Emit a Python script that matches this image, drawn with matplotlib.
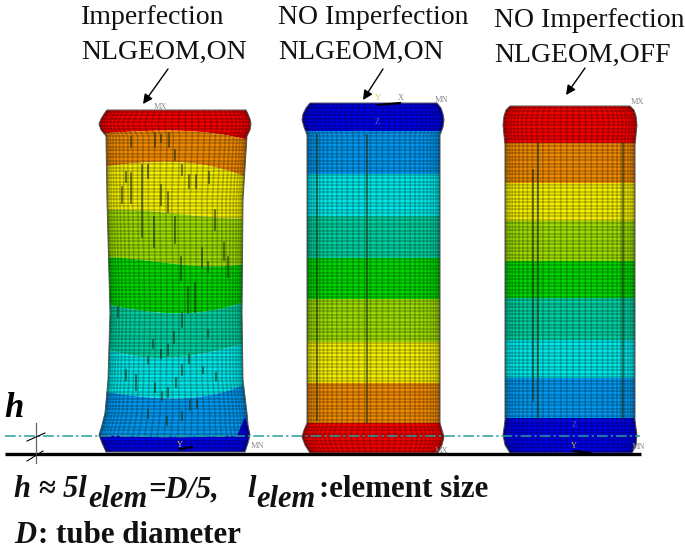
# FE tube sketch: three tubes with contour bands, labels and the h dimension

import numpy as np
import matplotlib.pyplot as plt
from matplotlib.patches import Polygon

plt.rcParams["font.family"] = ["Liberation Serif", "DejaVu Serif"]

# contour colours, top band first (tube 1 and 3)
band_colors = ["#f40000", "#f08a00", "#f4f000", "#9cdc00", "#00d800",
               "#00d0a0", "#00e8e8", "#0098f0", "#0000e8"]

# outlines
t1_y = [110, 114, 119, 124, 130, 136, 200, 313, 380, 413, 425, 435, 443, 452]
t1_left = [107, 104, 101, 99, 101, 106, 107, 110, 108, 105, 102, 99, 102, 106]
t1_right = [246, 248, 250, 251, 250, 247, 243, 242, 243, 247, 248, 250, 248, 245]

t2_y = [103, 108, 114, 120, 127, 135, 423, 430, 437, 445, 453]
t2_left = [310, 306, 303, 302, 304, 307, 307, 304, 302, 305, 310]
t2_right = [437, 441, 443, 444, 443, 440, 440, 442, 444, 442, 438]

t3_y = [106, 110, 116, 125, 135, 145, 420, 428, 435, 445, 453]
t3_left = [510, 506, 504, 503, 504, 505, 505, 504, 503, 505, 510]
t3_right = [630, 634, 636, 637, 636, 635, 635, 636, 637, 636, 632]

# band boundaries, tube 1 is curved (left, 25%, middle, 75%, right)
t1_bands = [[133, 131, 130, 133, 141],
            [167, 163, 161, 167, 180],
            [210, 210, 213, 217, 218],
            [257, 258, 265, 265, 262],
            [302, 308, 315, 308, 298],
            [345, 355, 358, 350, 340],
            [390, 395, 399, 393, 380],
            [434, 436, 437, 436, 435]]
t2_bands = [131, 174, 216, 258, 299, 342, 383, 423]
t3_bands = [143, 183, 221, 261, 298, 340, 378, 418]
t1_corner = [[237, 436], [245, 417], [251, 436]]

# dark short strokes on tube 1 (x, y start, y end)
t1_strokes = [(131, 137, 147), (155, 133, 147), (161, 135, 142), (169, 133, 147),
              (175, 150, 160), (142, 165, 237), (148, 165, 178), (126, 172, 182),
              (131, 173, 203), (122, 187, 203), (161, 185, 205), (168, 192, 212),
              (182, 165, 175), (189, 175, 188), (196, 175, 188), (209, 172, 183),
              (154, 217, 247), (175, 217, 243), (215, 210, 230), (202, 248, 267),
              (181, 257, 280), (208, 262, 272), (224, 243, 260), (228, 257, 277),
              (188, 287, 313), (195, 283, 312), (182, 313, 327), (174, 332, 343),
              (153, 340, 348), (118, 307, 317), (208, 330, 337), (161, 350, 358),
              (168, 345, 355), (148, 357, 363), (126, 370, 380), (136, 375, 390),
              (155, 383, 392), (176, 378, 387), (162, 392, 400), (168, 388, 397),
              (182, 365, 375), (189, 355, 363), (203, 367, 373), (216, 373, 380),
              (190, 400, 410), (197, 400, 408), (182, 412, 420), (167, 417, 425),
              (148, 410, 418)]
t2_strokes = [(317, 135, 420), (367, 135, 423)]
t3_strokes = [(538, 143, 418), (533, 170, 400), (623, 143, 418)]

# titles: text, x, baseline y
titles = [("Imperfection", 81, 24), ("NLGEOM,ON", 81, 59),
          ("NO Imperfection", 278, 24), ("NLGEOM,ON", 278, 59),
          ("NO Imperfection", 494, 27), ("NLGEOM,OFF", 494, 62)]
arrows = [((168, 69), (143, 104)), ((383, 69), (363, 100)), ((585, 68), (566, 95))]

# little grey result labels: text, x, y, colour
small_labels = [("MX", 160, 107, "#8a8a8a"), ("MN", 257, 446, "#8a8a8a"),
                ("Y", 378, 98, "#d8d040"), ("X", 401, 98, "#8a8a8a"),
                ("MN", 441, 100, "#8a8a8a"), ("Z", 377, 122, "#3a6ad8"),
                ("MX", 441, 451, "#8a8a8a"), ("MX", 637, 102, "#8a8a8a"),
                ("MN", 638, 447, "#8a8a8a"), ("Y", 574, 446, "#c8c840"),
                ("Z", 574, 425, "#3a6ad8"), ("Y", 180, 445, "#d8d040")]

fig = plt.figure(figsize=(6.85, 5.5), dpi=100)
ax = fig.add_axes([0, 0, 1, 1])
ax.set_xlim(0, 685)
ax.set_ylim(550, 0)
ax.axis("off")


# One tube: outline, bands clipped to it, then the mesh on top
def draw_tube(y, left, right, bands, colors, strokes, n_cols=36, row_step=3.5):
    y = np.array(y, dtype=float)
    left = np.array(left, dtype=float)
    right = np.array(right, dtype=float)
    pts = np.vstack([np.column_stack([left, y]),
                     np.column_stack([right, y])[::-1]])
    outline = Polygon(pts, closed=True, facecolor="none", edgecolor="#555555",
                      lw=0.7, zorder=6)
    ax.add_patch(outline)

    xs = np.linspace(left.min() - 2, right.max() + 2, 80)
    tops = [np.full_like(xs, y.min() - 2)]
    for b in bands:
        if np.isscalar(b):
            tops.append(np.full_like(xs, b))
        else:
            fr = [0, 0.25, 0.5, 0.75, 1]
            fit = np.polyfit(fr, b, 3)
            tops.append(np.polyval(fit, (xs - xs[0]) / (xs[-1] - xs[0])))
    tops.append(np.full_like(xs, y.max() + 2))
    for i, c in enumerate(colors):
        f = ax.fill_between(xs, tops[i], tops[i + 1], color=c, lw=0, zorder=2)
        f.set_clip_path(outline)

    # mesh rows
    for yy in np.arange(y.min() + 1.5, y.max(), row_step):
        ln, = ax.plot([xs[0], xs[-1]], [yy, yy], color="black", lw=1.1,
                      alpha=0.25, zorder=3)
        ln.set_clip_path(outline)
    # mesh columns follow the outline, closer together near the edges
    yf = np.linspace(y.min(), y.max(), 120)
    lf = np.interp(yf, y, left)
    rf = np.interp(yf, y, right)
    for th in np.linspace(-np.pi / 2, np.pi / 2, n_cols):
        fr = 0.5 + 0.5 * np.sin(th)
        ln, = ax.plot(lf + fr * (rf - lf), yf, color="black", lw=1.2,
                      alpha=0.22, zorder=3)
        ln.set_clip_path(outline)

    for x, y0, y1 in strokes:
        ax.plot([x, x], [y0, y1], color="#203010", lw=1.2, alpha=0.7, zorder=4)
    return outline


o1 = draw_tube(t1_y, t1_left, t1_right, t1_bands, band_colors, t1_strokes)
corner = Polygon(t1_corner, closed=True, color="#0000e0", lw=0, zorder=2.5)
ax.add_patch(corner)
corner.set_clip_path(o1)
draw_tube(t2_y, t2_left, t2_right, t2_bands, band_colors[::-1], t2_strokes)
draw_tube(t3_y, t3_left, t3_right, t3_bands, band_colors, t3_strokes, n_cols=34)

# titles and arrows
for txt, x, y in titles:
    ax.text(x, y, txt, fontsize=20, va="baseline", ha="left", color="#111111")
for start, end in arrows:
    ax.annotate("", xy=end, xytext=start,
                arrowprops=dict(arrowstyle="-|>", color="black", lw=1.0,
                                mutation_scale=14, shrinkA=0, shrinkB=0))

for txt, x, y, c in small_labels:
    ax.text(x, y, txt, fontsize=6, color=c, ha="center", va="center", zorder=7)
ax.plot([378, 400], [105, 103], color="black", lw=1.5, zorder=7)
ax.plot([574, 590], [451, 453], color="black", lw=1.5, zorder=7)
ax.plot([180, 192], [449, 447], color="black", lw=1.5, zorder=7)

# ground, h level, h dimension
ax.plot([5, 641], [454, 454], color="black", lw=2.4, solid_capstyle="butt", zorder=8)
ax.plot([5, 640], [435.5, 435.5], color="#2a9d9d", lw=1.1, zorder=8,
        dashes=(7, 2, 1.5, 2))
ax.plot([36, 36], [423, 463], color="#666666", lw=0.9, zorder=8)
ax.plot([27, 45], [441, 433], color="black", lw=0.8, zorder=8)
ax.plot([27, 43], [461, 451], color="black", lw=0.8, zorder=8)
ax.text(4, 417, "h", fontsize=25, style="italic", weight="bold", va="baseline")

# formula pieces, placed one by one because the subscripts are full size
bi = dict(fontsize=22, style="italic", weight="bold", va="baseline", color="#111111")
ax.text(14, 497, "h \u2248 5l", **bi)
ax.text(88, 507, "elem", **bi)
ax.text(148, 497, "=D/5,", **bi)
ax.text(247, 497, "l", **bi)
ax.text(256, 507, "elem", **bi)
ax.text(319, 497, ":element size", fontsize=22.3, weight="bold", va="baseline",
        color="#111111")
ax.text(14, 543, "D", **bi)
ax.text(38, 543, ": tube diameter", fontsize=22.3, weight="bold", va="baseline",
        color="#111111")

plt.savefig("out.png", dpi=100)
